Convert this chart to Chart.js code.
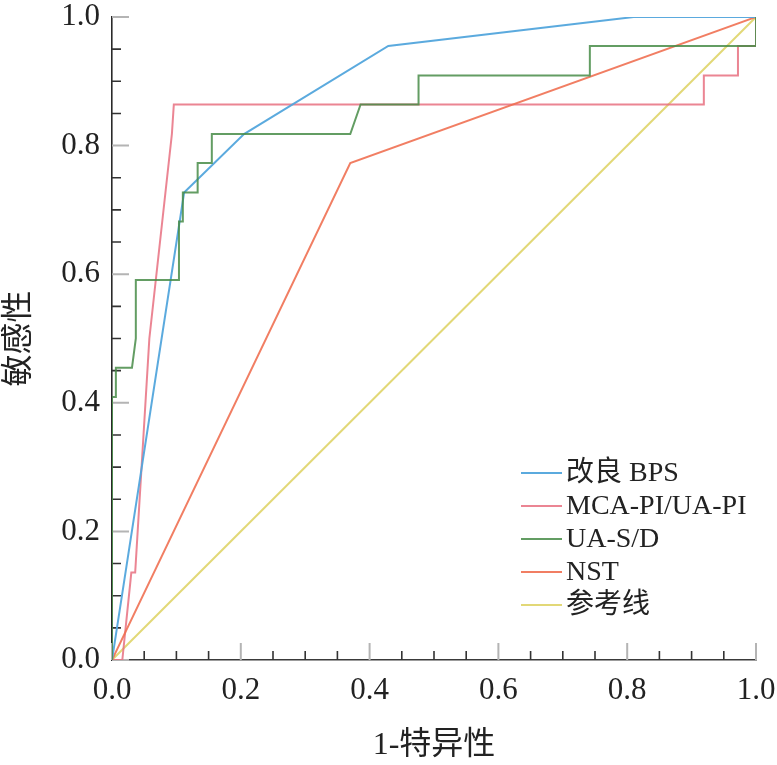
<!DOCTYPE html>
<html>
<head>
<meta charset="utf-8">
<script src="https://cdn.jsdelivr.net/npm/chart.js@4/dist/chart.umd.min.js"></script>
<style>
  html, body { margin: 0; padding: 0; background: #fff; }
  #wrap { width: 777px; height: 765px; position: relative; }
</style>
</head>
<body>
<div id="wrap"><canvas id="roc"></canvas></div>
<script>
// ROC curves, values (x = 1-specificity, y = sensitivity)
var labels = ['改良 BPS', 'MCA-PI/UA-PI', 'UA-S/D', 'NST', '参考线'];

var bpsX = [0, 0.112, 0.205, 0.429, 0.81, 1];
var bpsY = [0, 0.727, 0.818, 0.955, 1, 1];

var mcaX = [0, 0.016, 0.03, 0.036, 0.058, 0.093, 0.096, 0.919, 0.919, 0.972, 0.972, 1, 1];
var mcaY = [0, 0, 0.136, 0.136, 0.5, 0.818, 0.864, 0.864, 0.909, 0.909, 0.955, 0.955, 1];

var udX = [0, 0, 0.006, 0.006, 0.031, 0.037, 0.037, 0.104, 0.104, 0.11, 0.11, 0.133, 0.133, 0.155, 0.155, 0.37, 0.386, 0.476, 0.476, 0.742, 0.742, 1, 1];
var udY = [0, 0.409, 0.409, 0.4545, 0.4545, 0.5, 0.591, 0.591, 0.682, 0.682, 0.727, 0.727, 0.773, 0.773, 0.818, 0.818, 0.864, 0.864, 0.909, 0.909, 0.955, 0.955, 1];

var nstX = [0, 0.37, 1];
var nstY = [0, 0.773, 1];

var refX = [0, 1];
var refY = [0, 1];

var colors = [
  'rgba(82,165,220,0.95)',
  'rgba(232,112,128,0.85)',
  'rgba(72,140,72,0.85)',
  'rgba(240,112,82,0.9)',
  'rgba(224,214,112,0.95)'
];
// draw order: lower number ends up on top
var drawOrder = [1, 3, 0, 2, 4];

var serif = "'Liberation Serif', 'Noto Sans CJK SC', serif";

function pts(xs, ys) {
  var out = [];
  for (var i = 0; i < xs.length; i++) out.push({ x: xs[i], y: ys[i] });
  return out;
}

var series = [pts(bpsX, bpsY), pts(mcaX, mcaY), pts(udX, udY), pts(nstX, nstY), pts(refX, refY)];

var datasets = [];
for (var i = 0; i < series.length; i++) {
  datasets.push({
    label: labels[i],
    data: series[i],
    order: drawOrder[i],
    showLine: true,
    borderColor: colors[i],
    borderWidth: 2,
    pointRadius: 0,
    tension: 0,
    fill: false
  });
}

// inward tick marks, minor every 0.05, major (grey, longer) every 0.2
var innerTicks = {
  id: 'innerTicks',
  beforeDatasetsDraw: function (chart) {
    var ctx = chart.ctx;
    var xs = chart.scales.x, ys = chart.scales.y;
    var a = chart.chartArea;
    ctx.save();
    for (var k = 0; k <= 20; k++) {
      var v = k * 0.05;
      var major = (k % 4 === 0);
      ctx.strokeStyle = major ? '#b4b4b4' : '#333';
      ctx.lineWidth = major ? 2 : 1.6;
      var len = major ? 17 : 9;
      var px = xs.getPixelForValue(v);
      var py = ys.getPixelForValue(v);
      ctx.beginPath();
      ctx.moveTo(px, a.bottom);
      ctx.lineTo(px, a.bottom - len);
      ctx.moveTo(a.left, py);
      ctx.lineTo(a.left + len, py);
      ctx.stroke();
    }
    ctx.restore();
  }
};

// legend drawn inside the plot, lower right
var innerLegend = {
  id: 'innerLegend',
  afterDraw: function (chart) {
    var ctx = chart.ctx;
    ctx.save();
    ctx.font = '28px ' + serif;
    ctx.textBaseline = 'middle';
    ctx.fillStyle = '#222';
    for (var i = 0; i < labels.length; i++) {
      var y = 473 + i * 33;
      ctx.strokeStyle = colors[i];
      ctx.lineWidth = 2;
      ctx.beginPath();
      ctx.moveTo(521, y);
      ctx.lineTo(562, y);
      ctx.stroke();
      ctx.fillText(labels[i], 566, y + 1);
    }
    ctx.restore();
  }
};

var ctx = document.getElementById('roc').getContext('2d');
var chart = new Chart(ctx, {
  type: 'scatter',
  data: { datasets: datasets },
  options: {
    responsive: true,
    maintainAspectRatio: false,
    animation: false,
    layout: { padding: { left: 0, right: 21, top: 17, bottom: 0 } },
    plugins: {
      legend: { display: false },
      tooltip: { enabled: false }
    },
    scales: {
      x: {
        type: 'linear',
        min: 0,
        max: 1,
        grid: { display: false, drawTicks: false },
        border: { display: true, color: '#3a3a3a', width: 1.6 },
        ticks: {
          stepSize: 0.2,
          padding: 12,
          color: '#222',
          font: { family: serif, size: 31 },
          callback: function (v) { return Number(v).toFixed(1); }
        },
        title: {
          display: true,
          text: '1-特异性',
          color: '#222',
          font: { family: serif, size: 32 },
          padding: { top: 0, bottom: 0 }
        },
        afterFit: function (s) {
          s.height = 105;
          s.paddingLeft = 0;
          s.paddingRight = 0;
        }
      },
      y: {
        type: 'linear',
        min: 0,
        max: 1,
        grid: { display: false, drawTicks: false },
        border: { display: true, color: '#2a2a2a', width: 1.6 },
        ticks: {
          stepSize: 0.2,
          padding: 12,
          color: '#222',
          font: { family: serif, size: 31 },
          callback: function (v) { return Number(v).toFixed(1); }
        },
        title: {
          display: true,
          text: '敏感性',
          color: '#222',
          font: { family: serif, size: 32 },
          padding: { top: 0, bottom: 0 }
        },
        afterFit: function (s) {
          s.width = 112;
          s.paddingTop = 0;
          s.paddingBottom = 0;
        }
      }
    }
  },
  plugins: [innerTicks, innerLegend]
});
</script>
</body>
</html>
